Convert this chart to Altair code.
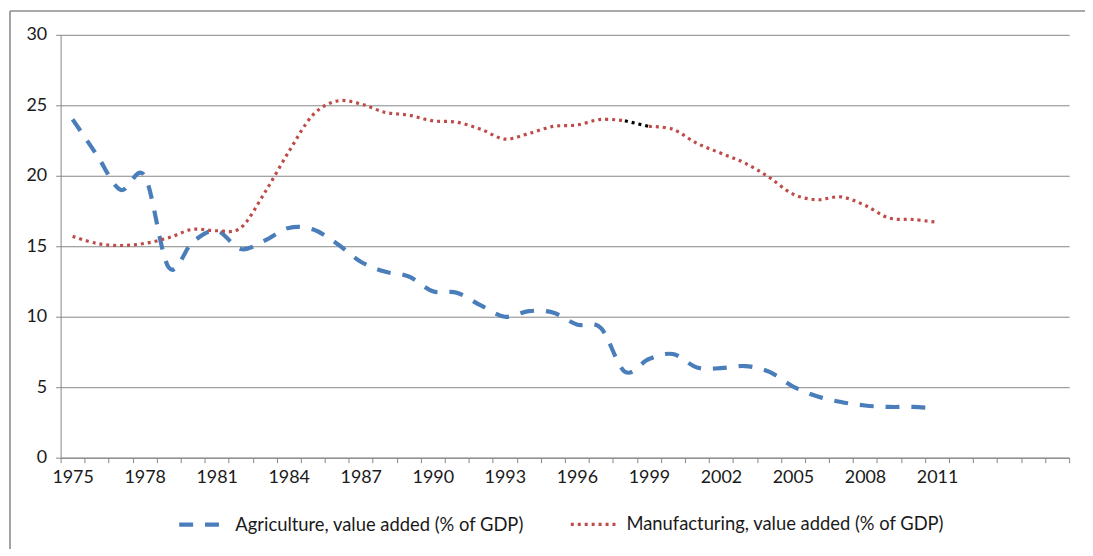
import altair as alt
import pandas as pd

# ---- data ----
years = list(range(1975, 2012))
agriculture = [24.0, 21.5, 19.0, 20.0, 13.5, 15.3, 16.1, 14.8, 15.4, 16.3,
               16.2, 15.2, 13.9, 13.2, 12.85, 11.8, 11.7, 10.8, 10.0, 10.4,
               10.3, 9.45, 9.2, 6.1, 7.0, 7.35, 6.4, 6.35, 6.5, 6.1,
               5.05, 4.35, 3.95, 3.7, 3.6, 3.6, 3.5]
manufacturing = [15.7, 15.2, 15.05, 15.2, 15.6, 16.2, 16.1, 16.3, 18.8, 21.7,
                 24.3, 25.3, 25.1, 24.5, 24.3, 23.9, 23.8, 23.3, 22.6, 23.0,
                 23.5, 23.6, 24.0, 23.9, 23.5, 23.3, 22.3, 21.6, 20.9, 19.9,
                 18.7, 18.3, 18.5, 17.9, 17.0, 16.9, 16.7]
series_names = ["Agriculture, value added (% of GDP)",
                "Manufacturing, value added (% of GDP)"]
# axis category range (the Excel axis runs on to 2016 with empty slots)
axis_first_year, axis_last_year = 1975, 2016
label_years = list(range(1975, 2012, 3))
y_ticks = [0, 5, 10, 15, 20, 25, 30]
black_years = [1998, 1999]   # segment drawn in black in the original

# ---- build table ----
rows = []
for y, v in zip(years, agriculture):
    rows.append({"year": y, "value": v, "series": series_names[0], "part": "a"})
for y, v in zip(years, manufacturing):
    if y <= black_years[0]:
        rows.append({"year": y, "value": v, "series": series_names[1], "part": "m1"})
    if y >= black_years[1]:
        rows.append({"year": y, "value": v, "series": series_names[1], "part": "m2"})
df = pd.DataFrame(rows)
black_df = pd.DataFrame({"year": black_years,
                         "value": [manufacturing[years.index(y)] for y in black_years]})

W, H = 1016, 426
n_cat = axis_last_year - axis_first_year + 1
half_band = W / n_cat / 2
boundaries = [axis_first_year - 0.5 + i for i in range(n_cat + 1)]
label_list = ",".join(str(y) for y in label_years)

xscale = alt.Scale(domain=[axis_first_year - 0.5, axis_last_year + 0.5], nice=False, zero=False)
yscale = alt.Scale(domain=[0, 30], nice=False)

x_axis = alt.Axis(
    values=boundaries, title=None, grid=False, tickSize=5,
    labelExpr=f"indexof([{label_list}], datum.value + 0.5) >= 0 ? format(datum.value + 0.5, 'd') : ''",
    labelOffset=half_band, labelPadding=6, labelOverlap=False, labelBound=False,
    labelFlush=False,
)
y_axis = alt.Axis(values=y_ticks, title=None, grid=True, tickSize=5,
                  labelPadding=9, format="d", labelOverlap=False)

color = alt.Color("series:N",
                  scale=alt.Scale(domain=series_names, range=["#4a7ebb", "#be4b48"]),
                  legend=alt.Legend(title=None, orient="none", direction="horizontal",
                                    legendX=117, legendY=467,
                                    symbolType="stroke", symbolSize=2304,
                                    symbolStrokeWidth=4, labelOffset=6,
                                    columnPadding=40, labelFontSize=18.5,
                                    labelFont="Lato", labelColor="#1a1a1a",
                                    labelLimit=400))
dash = alt.StrokeDash("series:N",
                      scale=alt.Scale(domain=series_names, range=[[14, 12], [3, 4]]))
swidth = alt.StrokeWidth("series:N",
                         scale=alt.Scale(domain=series_names, range=[4.2, 3.2]),
                         legend=None)

lines = alt.Chart(df).mark_line(interpolate="cardinal", strokeCap="butt").encode(
    x=alt.X("year:Q", scale=xscale, axis=x_axis),
    y=alt.Y("value:Q", scale=yscale, axis=y_axis),
    color=color,
    strokeDash=dash,
    strokeWidth=swidth,
    detail="part:N",
    order="year:Q",
)

black = alt.Chart(black_df).mark_line(color="#000000", strokeDash=[3, 4],
                                      strokeWidth=3.2).encode(
    x=alt.X("year:Q", scale=xscale, axis=x_axis),
    y=alt.Y("value:Q", scale=yscale, axis=y_axis),
)

frame_src = pd.DataFrame({"f": [0]})
frame_top = alt.Chart(frame_src).mark_rule(stroke="#8c8c8c", strokeWidth=1.6).encode(
    x=alt.value(-51), x2=alt.value(1300), y=alt.value(-24))
frame_left = alt.Chart(frame_src).mark_rule(stroke="#8c8c8c", strokeWidth=1.6).encode(
    x=alt.value(-51), y=alt.value(-24), y2=alt.value(800))

chart = alt.layer(lines, black, frame_top, frame_left).properties(
    width=W, height=H,
    autosize=alt.AutoSizeParams(type="none"),
    padding={"left": 53, "top": 25, "right": 16, "bottom": 90},
).configure_view(stroke=None).configure_axis(
    domainColor="#868686", tickColor="#868686", gridColor="#868686",
    labelFont="Lato", labelFontSize=18, labelColor="#1a1a1a",
)

chart.save("out.html", embed_options={"renderer": "svg", "actions": False})
